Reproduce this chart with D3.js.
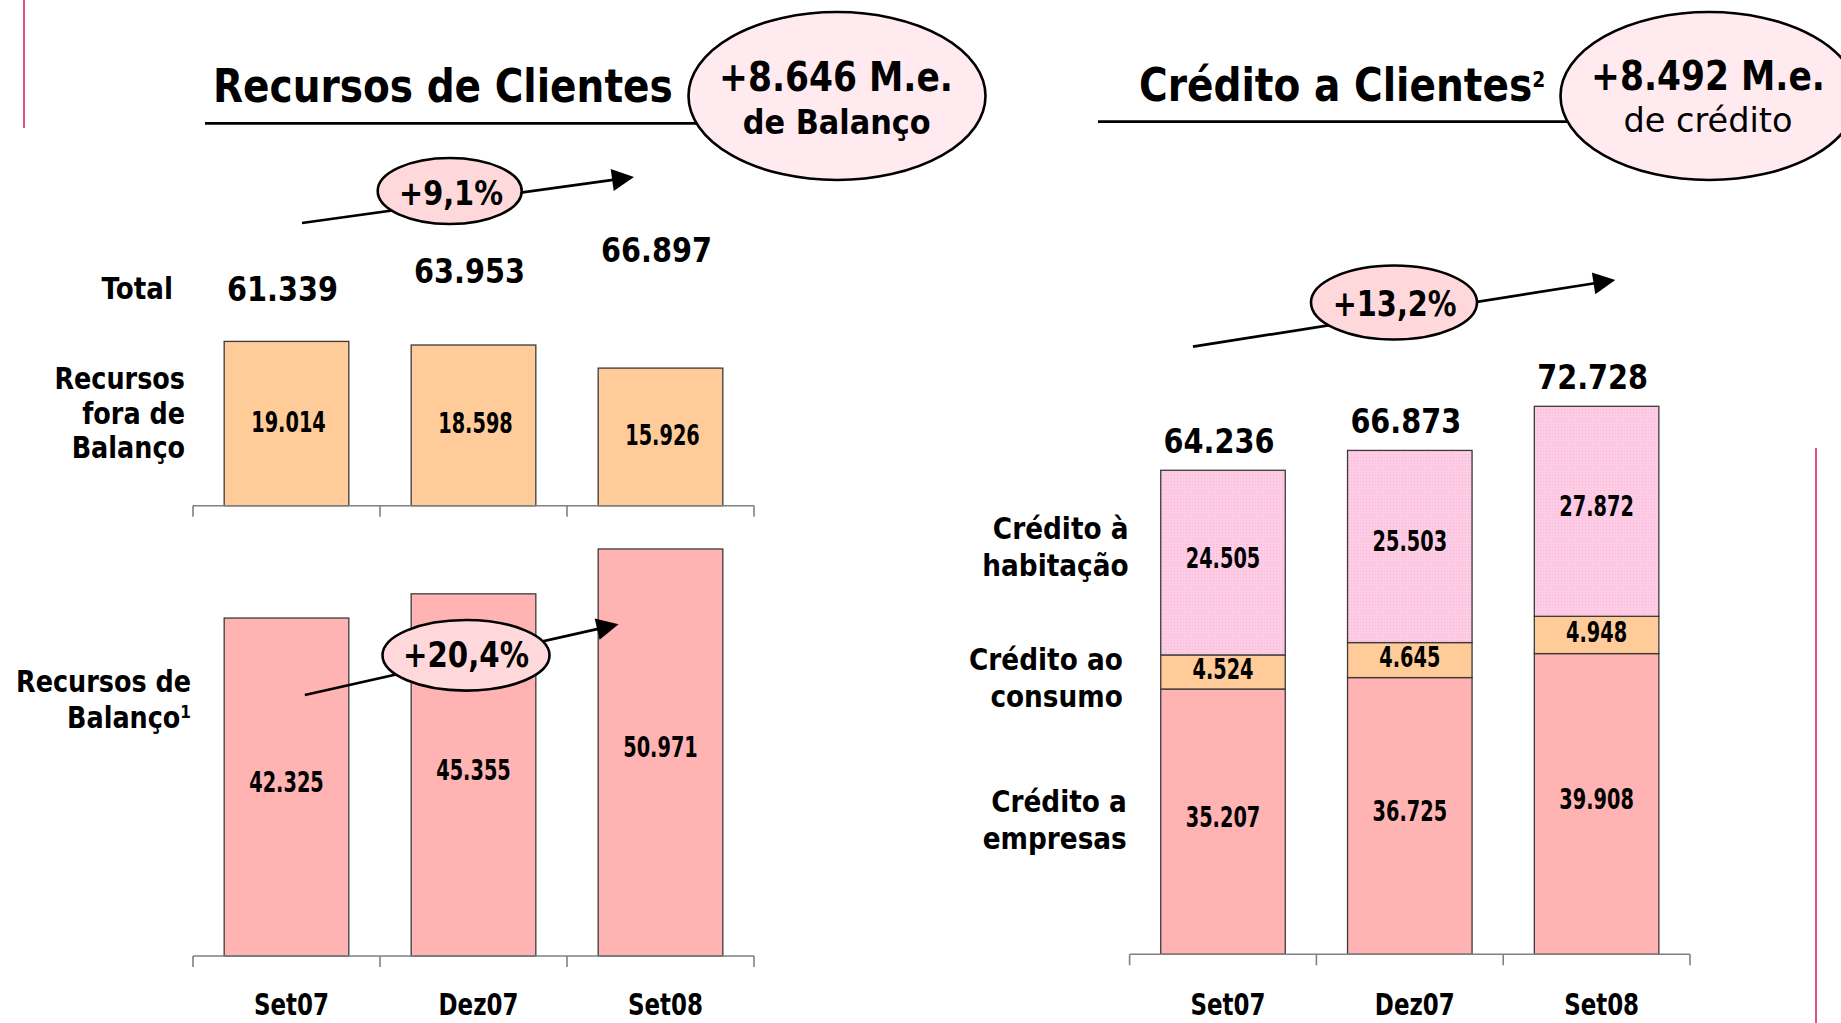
<!DOCTYPE html>
<html><head><meta charset="utf-8">
<script src="https://cdn.jsdelivr.net/npm/d3@7"></script>
<style>html,body{margin:0;padding:0;background:#fff;overflow:hidden}</style>
</head><body><svg id="c" width="1841" height="1023"></svg>
<script>
// ---------- data ----------
const categories = ["Set07", "Dez07", "Set08"];
const recursosForaBalanco = [19.014, 18.598, 15.926];
const recursosBalanco = [42.325, 45.355, 50.971];
const recursosTotal = [61.339, 63.953, 66.897];
const creditoEmpresas = [35.207, 36.725, 39.908];
const creditoConsumo = [4.524, 4.645, 4.948];
const creditoHabitacao = [24.505, 25.503, 27.872];
const creditoTotal = [64.236, 66.873, 72.728];
const growthLabels = ["+9,1%", "+20,4%", "+13,2%"];
const headlineValues = ["+8.646 M.e.", "+8.492 M.e."];
const headlineSubs = ["de Balanço", "de crédito"];
const titles = ["Recursos de Clientes", "Crédito a Clientes"];
const titleNotes = ["", "2"];
const seriesKeys = ["empresas", "consumo", "habitacao"];

// ---------- setup ----------
const svg = d3.select("#c");
const FONT = "'DejaVu Sans', 'Verdana', sans-serif";
const fmt = v => v.toFixed(3);
const C = {
  orange: "#FFCC99", salmon: "#FFB3B3", pinkPat: "#FFCCE6",
  bigEll: "#FFEAF0", smallEll: "#FFD8DB", accent: "#E0508A", axis: "#808080", edge: "#3a3a3a"
};

const defs = svg.append("defs");
const pat = defs.append("pattern").attr("id", "dots").attr("width", 3).attr("height", 3)
  .attr("patternUnits", "userSpaceOnUse");
pat.append("rect").attr("width", 3).attr("height", 3).attr("fill", C.pinkPat);
pat.append("rect").attr("x", 1).attr("y", 1).attr("width", 1).attr("height", 1).attr("fill", "#F3B6D6");

function txt(parent, s, x, y, o = {}) {
  const t = parent.append("text")
    .attr("text-anchor", o.anchor || "middle")
    .style("font-family", FONT)
    .style("font-size", o.size + "px")
    .style("font-weight", o.weight || "bold")
    .attr("fill", "#000");
  if (o.sup) {
    t.append("tspan").text(s);
    t.append("tspan").text(o.sup).style("font-size", o.supSize + "px").attr("dy", -o.supDy);
  } else t.text(s);
  let sx = o.sx || 1;
  if (o.width) sx = o.width / t.node().getComputedTextLength();
  t.attr("transform", `translate(${x},${y}) scale(${sx},1)`);
  return t;
}

function arrow(g, x1, y1, x2, y2) {
  const dx = x2 - x1, dy = y2 - y1, L = Math.hypot(dx, dy);
  const ux = dx / L, uy = dy / L, nx = -uy, ny = ux;
  const hl = 22, hw = 11;
  g.append("line").attr("x1", x1).attr("y1", y1)
    .attr("x2", x2 - ux * hl * 0.8).attr("y2", y2 - uy * hl * 0.8)
    .attr("stroke", "#000").attr("stroke-width", 2.7);
  const bx = x2 - ux * hl, by = y2 - uy * hl;
  g.append("path").attr("d", `M${x2},${y2}L${bx + nx * hw},${by + ny * hw}L${bx - nx * hw},${by - ny * hw}Z`)
    .attr("fill", "#000");
}

function ellipse(g, cx, cy, rx, ry, fill) {
  g.append("ellipse").attr("cx", cx).attr("cy", cy).attr("rx", rx).attr("ry", ry)
    .attr("fill", fill).attr("stroke", "#000").attr("stroke-width", 2.6);
}

// accent lines
svg.append("line").attr("x1", 24).attr("x2", 24).attr("y1", 0).attr("y2", 128)
  .attr("stroke", C.accent).attr("stroke-width", 2);
svg.append("line").attr("x1", 1816).attr("x2", 1816).attr("y1", 448).attr("y2", 1023)
  .attr("stroke", C.accent).attr("stroke-width", 2);

// ---------- scales ----------
const xL = d3.scaleBand().domain(categories).range([193, 754]).paddingInner(1 / 3).paddingOuter(1 / 6);
const xR = d3.scaleBand().domain(categories).range([1129.6, 1690]).paddingInner(1 / 3).paddingOuter(1 / 6);
const yUp = d3.scaleLinear().domain([0, 20]).range([505.7, 505.7 - 20 * 8.64]);
const yLow = d3.scaleLinear().domain([0, 50]).range([956, 956 - 50 * 7.985]);
const yTot = d3.scaleLinear().domain([d3.min(recursosTotal), d3.max(recursosTotal)]).range([301, 262]);
const yR = d3.scaleLinear().domain([0, 70]).range([954.3, 954.3 - 70 * 7.535]);

function bandAxis(g, x, y) {
  const step = x.step(), bw = x.bandwidth();
  const edges = [x(categories[0]) - (step - bw) / 2].concat(categories.map(c => x(c) + bw + (step - bw) / 2));
  const ax = g.append("g");
  ax.append("line").attr("x1", edges[0]).attr("x2", edges[edges.length - 1]).attr("y1", y).attr("y2", y)
    .attr("stroke", C.axis).attr("stroke-width", 1.6);
  ax.selectAll("line.t").data(edges).join("line").attr("class", "t")
    .attr("x1", d => d).attr("x2", d => d).attr("y1", y).attr("y2", y + 11)
    .attr("stroke", C.axis).attr("stroke-width", 1.6);
}

// ---------- LEFT: Recursos de Clientes ----------
const gl = svg.append("g");
gl.append("line").attr("x1", 205).attr("x2", 720).attr("y1", 123.3).attr("y2", 123.3)
  .attr("stroke", "#000").attr("stroke-width", 2.8);
txt(gl, titles[0], 213, 101.7, { size: 46, anchor: "start", width: 460 });
ellipse(gl, 837, 96, 148.5, 84, C.bigEll);
txt(gl, headlineValues[0], 836, 90.7, { size: 41, width: 234 });
txt(gl, headlineSubs[0], 836.7, 134, { size: 34, width: 188 });

arrow(gl, 302, 223, 634, 177);
ellipse(gl, 449.7, 191, 72, 33, C.smallEll);
txt(gl, growthLabels[0], 451, 205, { size: 34, width: 104 });

txt(gl, "Total", 173, 299.3, { size: 31, anchor: "end", sx: 0.845 });
recursosTotal.forEach((v, i) => {
  txt(gl, fmt(v), xL(categories[i]) + xL.bandwidth() / 2 - 4, yTot(v), { size: 34, sx: 0.845 });
});

["Recursos", "fora de", "Balanço"].forEach((s, i) =>
  txt(gl, s, 185, 389.3 + i * 34.5, { size: 30, anchor: "end", sx: 0.85 }));
txt(gl, "Recursos de", 191, 691.7, { size: 30, anchor: "end", sx: 0.85 });
txt(gl, "Balanço", 191, 728.3, { size: 30, anchor: "end", sx: 0.85, sup: "1", supSize: 18, supDy: 10 });

// upper bars (fora de balanço)
gl.append("g").selectAll("rect").data(recursosForaBalanco).join("rect")
  .attr("x", (d, i) => xL(categories[i])).attr("width", xL.bandwidth())
  .attr("y", d => yUp(d)).attr("height", d => yUp(0) - yUp(d))
  .attr("fill", C.orange).attr("stroke", C.edge).attr("stroke-width", 1.3);
recursosForaBalanco.forEach((v, i) =>
  txt(gl, fmt(v), xL(categories[i]) + xL.bandwidth() / 2 + 2, (yUp(v) + yUp(0)) / 2 + 8, { size: 28, sx: 0.69 }));
bandAxis(gl, xL, yUp(0));

// lower bars (balanço)
gl.append("g").selectAll("rect").data(recursosBalanco).join("rect")
  .attr("x", (d, i) => xL(categories[i])).attr("width", xL.bandwidth())
  .attr("y", d => yLow(d)).attr("height", d => yLow(0) - yLow(d))
  .attr("fill", C.salmon).attr("stroke", C.edge).attr("stroke-width", 1.3);
recursosBalanco.forEach((v, i) =>
  txt(gl, fmt(v), xL(categories[i]) + xL.bandwidth() / 2, (yLow(v) + yLow(0)) / 2 + 5, { size: 28, sx: 0.69 }));
bandAxis(gl, xL, yLow(0));
categories.forEach(c => txt(gl, c, xL(c) + xL.bandwidth() / 2 + 5, 1015, { size: 30, sx: 0.765 }));

arrow(gl, 304.8, 695, 618.6, 624.3);
ellipse(gl, 466, 655.3, 83.5, 35.3, C.smallEll);
txt(gl, growthLabels[1], 466, 666.7, { size: 35, width: 126 });

// ---------- RIGHT: Crédito a Clientes ----------
const gr = svg.append("g");
gr.append("line").attr("x1", 1098).attr("x2", 1590).attr("y1", 121.7).attr("y2", 121.7)
  .attr("stroke", "#000").attr("stroke-width", 2.8);
txt(gr, titles[1], 1139, 100.7, { size: 46, anchor: "start", sx: 0.85, sup: titleNotes[1], supSize: 22, supDy: 14 });
ellipse(gr, 1709, 96, 148.5, 84, C.bigEll);
txt(gr, headlineValues[1], 1708, 90, { size: 41, width: 234 });
txt(gr, headlineSubs[1], 1708, 131.7, { size: 34, weight: "normal", width: 169 });

arrow(gr, 1192.9, 346.7, 1615.3, 280);
ellipse(gr, 1394, 302.5, 83, 37, C.smallEll);
txt(gr, growthLabels[2], 1394.7, 316, { size: 36, width: 124 });

const rows = categories.map((c, i) => ({
  cat: c, empresas: creditoEmpresas[i], consumo: creditoConsumo[i], habitacao: creditoHabitacao[i]
}));
const stack = d3.stack().keys(seriesKeys)(rows);
const fills = { empresas: C.salmon, consumo: C.orange, habitacao: "url(#dots)" };
const layer = gr.append("g").selectAll("g").data(stack).join("g").attr("fill", d => fills[d.key]);
layer.selectAll("rect").data(d => d).join("rect")
  .attr("x", d => xR(d.data.cat)).attr("width", xR.bandwidth())
  .attr("y", d => yR(d[1])).attr("height", d => yR(d[0]) - yR(d[1]))
  .attr("stroke", C.edge).attr("stroke-width", 1.3);
stack.forEach(s => s.forEach(d => {
  const off = s.key === "consumo" ? 7 : 5;
  txt(gr, fmt(d[1] - d[0]), xR(d.data.cat) + xR.bandwidth() / 2, (yR(d[0]) + yR(d[1])) / 2 + off, { size: 28, sx: 0.69 });
}));
creditoTotal.forEach((v, i) =>
  txt(gr, fmt(v), xR(categories[i]) + xR.bandwidth() / 2 - 4, yR(v) - 17, { size: 34, sx: 0.845 }));
bandAxis(gr, xR, yR(0));
categories.forEach(c => txt(gr, c, xR(c) + xR.bandwidth() / 2 + 5, 1015, { size: 30, sx: 0.765 }));

[["Crédito à", "habitação", 1128.5, 539.3], ["Crédito ao", "consumo", 1122.8, 670], ["Crédito a", "empresas", 1126.8, 811.7]]
  .forEach(([a, b, x, y]) => {
    txt(gr, a, x, y, { size: 31, anchor: "end", sx: 0.85 });
    txt(gr, b, x, y + 37, { size: 31, anchor: "end", sx: 0.85 });
  });
</script></body></html>
